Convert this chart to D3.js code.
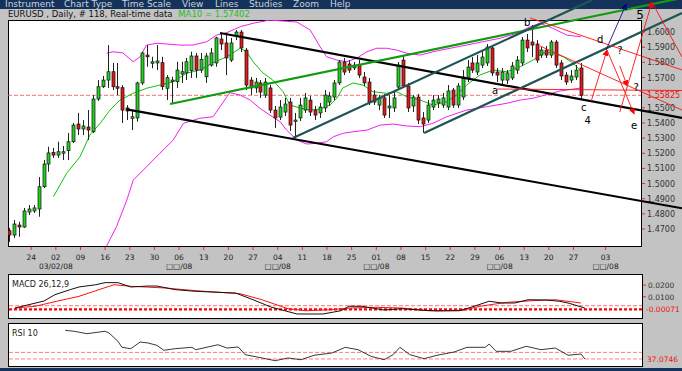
<!DOCTYPE html>
<html><head><meta charset="utf-8">
<script src="https://cdn.jsdelivr.net/npm/d3@7"></script>
<style>
body{margin:0;background:#c3c3c3;}
svg{display:block;font-family:"DejaVu Sans",Verdana,sans-serif;}
</style>
</head><body>
<svg id="chart" width="682" height="371"></svg>
<script>
// ---------------- DATA ----------------
const menuItems = ["Instrument","Chart Type","Time Scale","View","Lines","Studies","Zoom","Help"];
const titleText = "EURUSD , Daily, # 118, Real-time data";
const maText = "MA10 = 1.57402";

// daily candles [open, high, low, close]
const candles = [
[1.4689,1.4707,1.4616,1.4660],[1.4660,1.4759,1.4641,1.4733],[1.4726,1.4748,1.4649,1.4713],[1.4713,1.4839,1.4707,1.4819],
[1.4812,1.4858,1.4792,1.4832],[1.4819,1.4858,1.4806,1.4839],[1.4832,1.5043,1.4781,1.4979],[1.4979,1.5155,1.4971,1.5129],
[1.5129,1.5243,1.5078,1.5202],[1.5204,1.5235,1.5169,1.5188],[1.5188,1.5276,1.5169,1.5210],[1.5202,1.5248,1.5155,1.5210],
[1.5217,1.5334,1.5155,1.5276],[1.5276,1.5400,1.5268,1.5386],[1.5393,1.5466,1.5320,1.5360],[1.5360,1.5419,1.5320,1.5380],
[1.5373,1.5485,1.5287,1.5353],[1.5342,1.5584,1.5334,1.5558],[1.5558,1.5683,1.5545,1.5639],[1.5639,1.5710,1.5631,1.5683],
[1.5683,1.5914,1.5631,1.5738],[1.5738,1.5796,1.5617,1.5639],[1.5639,1.5796,1.5584,1.5631],[1.5633,1.5650,1.5400,1.5485],
[1.5499,1.5518,1.5419,1.5479],[1.5431,1.5485,1.5353,1.5441],[1.5433,1.5672,1.5408,1.5664],[1.5664,1.5870,1.5650,1.5862],
[1.5848,1.5914,1.5771,1.5837],[1.5794,1.5837,1.5761,1.5804],[1.5796,1.5914,1.5749,1.5809],[1.5798,1.5837,1.5617,1.5639],
[1.5629,1.5716,1.5551,1.5699],[1.5672,1.5705,1.5532,1.5683],[1.5672,1.5804,1.5631,1.5749],[1.5723,1.5804,1.5664,1.5738],
[1.5730,1.5829,1.5683,1.5804],[1.5745,1.5870,1.5697,1.5842],[1.5842,1.5862,1.5697,1.5749],[1.5749,1.5862,1.5730,1.5820],
[1.5705,1.5862,1.5664,1.5842],[1.5782,1.5895,1.5771,1.5862],[1.5796,1.5969,1.5771,1.5961],[1.5954,1.5994,1.5881,1.5921],
[1.5928,1.5994,1.5716,1.5829],[1.5815,1.5961,1.5802,1.5928],[1.5974,1.6013,1.5947,1.6000],[1.6000,1.6013,1.5868,1.5895],
[1.5881,1.5895,1.5617,1.5650],[1.5683,1.5703,1.5584,1.5631],[1.5631,1.5697,1.5598,1.5670],[1.5664,1.5683,1.5565,1.5604],
[1.5584,1.5697,1.5565,1.5670],[1.5631,1.5650,1.5466,1.5485],[1.5485,1.5512,1.5367,1.5433],[1.5439,1.5551,1.5419,1.5505],
[1.5472,1.5565,1.5446,1.5525],[1.5538,1.5565,1.5347,1.5386],[1.5413,1.5466,1.5301,1.5419],[1.5433,1.5565,1.5413,1.5518],
[1.5485,1.5598,1.5466,1.5565],[1.5551,1.5578,1.5446,1.5472],[1.5485,1.5512,1.5419,1.5452],[1.5466,1.5532,1.5433,1.5505],
[1.5499,1.5617,1.5472,1.5584],[1.5538,1.5604,1.5512,1.5578],[1.5571,1.5683,1.5551,1.5664],[1.5664,1.5815,1.5650,1.5802],
[1.5802,1.5829,1.5716,1.5736],[1.5789,1.5815,1.5730,1.5749],[1.5763,1.5802,1.5749,1.5782],[1.5782,1.5815,1.5697,1.5716],
[1.5703,1.5736,1.5644,1.5664],[1.5670,1.5697,1.5518,1.5538],[1.5584,1.5617,1.5518,1.5538],[1.5518,1.5584,1.5485,1.5565],
[1.5565,1.5591,1.5433,1.5452],[1.5499,1.5584,1.5433,1.5512],[1.5499,1.5604,1.5472,1.5565],[1.5637,1.5802,1.5617,1.5782],
[1.5815,1.5848,1.5631,1.5644],[1.5644,1.5664,1.5472,1.5499],[1.5512,1.5584,1.5472,1.5571],[1.5571,1.5591,1.5393,1.5419],
[1.5433,1.5472,1.5334,1.5393],[1.5419,1.5551,1.5400,1.5518],[1.5505,1.5584,1.5485,1.5551],[1.5532,1.5584,1.5499,1.5558],
[1.5518,1.5598,1.5499,1.5565],[1.5505,1.5650,1.5485,1.5611],[1.5617,1.5631,1.5499,1.5518],[1.5518,1.5664,1.5499,1.5644],
[1.5571,1.5749,1.5551,1.5703],[1.5697,1.5815,1.5670,1.5769],[1.5796,1.5835,1.5730,1.5749],[1.5736,1.5848,1.5716,1.5796],
[1.5782,1.5881,1.5763,1.5835],[1.5796,1.5921,1.5776,1.5901],[1.5895,1.5914,1.5710,1.5730],[1.5736,1.5763,1.5670,1.5716],
[1.5683,1.5763,1.5644,1.5736],[1.5683,1.5749,1.5657,1.5730],[1.5697,1.5802,1.5683,1.5776],[1.5749,1.5842,1.5723,1.5815],
[1.5796,1.5967,1.5776,1.5947],[1.5947,1.5987,1.5868,1.5895],[1.5934,1.6046,1.5835,1.5914],[1.5921,1.5947,1.5796,1.5815],
[1.5848,1.5901,1.5829,1.5881],[1.5881,1.5908,1.5829,1.5848],[1.5848,1.5947,1.5829,1.5934],[1.5934,1.5947,1.5763,1.5782],
[1.5796,1.5815,1.5683,1.5710],[1.5716,1.5736,1.5650,1.5670],[1.5683,1.5749,1.5664,1.5710],[1.5703,1.5782,1.5683,1.5749],
[1.5763,1.5796,1.5551,1.55825]
];

// MA10 [bar, price]
const ma10 = [[9.0,1.4913],[11.7,1.5068],[14.4,1.5177],[16.4,1.5320],[18.5,1.5398],[20.5,1.5485],[22.5,1.5551],[25.2,1.5596],
[27.9,1.5629],[30.6,1.5650],[33.3,1.5672],[36.0,1.5728],[38.7,1.5749],[41.4,1.5798],[44.2,1.5837],[46.9,1.5893],[48.2,1.5870],
[49.5,1.5804],[51.5,1.5730],[53.5,1.5683],[55.6,1.5606],[57.0,1.5518],[59.0,1.5499],[61.1,1.5485],[63.1,1.5492],[65.1,1.5518],
[66.5,1.5563],[67.7,1.5631],[69.8,1.5664],[71.8,1.5650],[73.8,1.5606],[76.6,1.5596],[78.6,1.5606],[80.7,1.5573],[83.4,1.5551],
[86.0,1.5518],[88.8,1.5540],[90.8,1.5584],[92.8,1.5650],[95.5,1.5716],[98.2,1.5749],[101.0,1.5738],[103.7,1.5771],[106.3,1.5815],
[108.3,1.5862],[110.3,1.5864],[112.4,1.5837],[114.4,1.5796],[116.0,1.5741]];

// Bollinger bands [bar, price]
const bbUpper = [[19.8,1.5860],[21.1,1.5870],[23.1,1.5862],[25.2,1.5804],[26.6,1.5837],[27.9,1.5914],[30.0,1.5926],[32.0,1.5921],
[34.7,1.5914],[37.3,1.5914],[40.1,1.5936],[42.1,1.5980],[44.2,1.5996],[46.9,1.6035],[49.5,1.6058],[52.9,1.6079],[58.4,1.6066],
[61.1,1.6013],[63.1,1.5903],[64.4,1.5837],[66.5,1.5815],[68.5,1.5804],[70.5,1.5827],[72.6,1.5870],[74.6,1.5893],[76.6,1.5893],
[78.6,1.5881],[80.7,1.5860],[83.4,1.5848],[86.0,1.5870],[89.5,1.5893],[92.8,1.5914],[96.1,1.5936],[99.6,1.5959],[103.0,1.5992],
[105.7,1.6035],[107.7,1.6058],[110.3,1.6025],[113.1,1.5980],[116.0,1.5969]];
const bbLower = [[19.8,1.4588],[21.8,1.4715],[23.9,1.4891],[25.2,1.5023],[27.9,1.5111],[30.6,1.5200],[33.3,1.5287],[35.4,1.5398],
[38.7,1.5431],[41.4,1.5441],[42.8,1.5507],[44.2,1.5573],[44.8,1.5600],[46.9,1.5584],[48.9,1.5551],[50.9,1.5497],[52.9,1.5452],
[55.0,1.5408],[56.3,1.5353],[58.4,1.5287],[60.4,1.5261],[62.4,1.5266],[64.4,1.5276],[65.8,1.5309],[67.8,1.5332],[69.8,1.5342],
[72.6,1.5353],[75.3,1.5386],[77.9,1.5393],[80.7,1.5380],[83.4,1.5375],[86.0,1.5398],[88.8,1.5441],[92.8,1.5485],[96.9,1.5507],
[101.0,1.5530],[103.7,1.5551],[106.3,1.5563],[108.7,1.5584],[111.8,1.5611],[116.0,1.5631]];

// MACD (26,12,9) [bar, value]
const macdLine = [[1.2,0.0004],[7.1,0.0064],[9.3,0.0118],[12.4,0.0161],[14.2,0.0184],[17.6,0.0203],[19.5,0.0221],[22.1,0.0221],
[24.7,0.0184],[28.2,0.0192],[30.0,0.0192],[33.7,0.0161],[37.9,0.0147],[46.0,0.0132],[49.5,0.0075],[53.1,0.0013],[58.4,-0.0047],
[63.7,-0.0047],[67.3,-0.0019],[69.0,0.0019],[71.6,0.0019],[76.1,-0.0013],[79.7,-0.0002],[83.2,-0.0013],[86.8,-0.0021],[91.3,-0.0019],
[93.9,0.0013],[97.4,0.0062],[100.0,0.0047],[102.6,0.0047],[105.3,0.0075],[108.9,0.0073],[111.6,0.0062],[113.4,0.0047],[116.8,0.0004]];
const signalLine = [[1.2,0.0004],[5.3,0.0019],[9.7,0.0062],[14.2,0.0104],[17.6,0.0152],[21.3,0.0203],[24.7,0.0190],[31.8,0.0175],
[37.9,0.0152],[46.9,0.0126],[51.3,0.0075],[56.6,-0.0002],[60.2,-0.0019],[65.5,-0.0010],[69.0,0.0004],[74.4,0.0010],[79.7,0.0004],
[85.0,-0.0019],[92.1,-0.0015],[95.5,0.0019],[101.0,0.0053],[106.3,0.0067],[110.8,0.0075],[116.0,0.0047]];
const macdTicks = [0.02, 0.01];
const macdLevels = {last: -0.00071, dash: 0.0024};

// RSI 10 [bar, value]
const rsiLine = [[11.4,84.8],[13.2,83.2],[15.8,79.2],[19.5,83.2],[20.3,80.3],[22.1,66.5],[22.9,56.5],[24.7,54.2],[26.6,65.3],
[28.2,63.7],[30.0,59.8],[31.4,51.5],[33.7,54.2],[37.1,56.5],[37.9,52.5],[42.4,60.8],[44.2,55.3],[46.5,57.0],[47.9,44.2],
[51.3,38.7],[54.0,34.2],[56.6,38.7],[59.2,35.8],[61.9,43.2],[65.5,47.0],[68.2,56.5],[70.8,52.5],[73.4,41.5],[76.1,35.8],
[77.9,44.2],[79.3,56.5],[81.3,44.2],[84.2,37.5],[86.8,43.2],[90.3,48.7],[92.9,56.5],[96.6,56.5],[97.4,62.0],[98.8,49.8],
[101.8,49.8],[104.9,58.2],[107.9,52.5],[110.8,55.3],[113.4,43.2],[116.0,45.3],[116.8,37.07]];
const rsiLevels = {last: 37.0746, upper: 48};

const priceTicks = [1.60,1.59,1.58,1.57,1.55,1.54,1.53,1.52,1.51,1.50,1.49,1.48,1.47];
const lastPrice = 1.55825;
const xTickLabels = ["24","02","09","16","23","30","06","13","20","27","04","11","18","25","01","08","15","22","29","06","13","20","27","03"];
const xTickBars = [4.5,9.5,14.5,19.5,24.5,29.5,34.5,39.5,44.5,49.5,54.5,59.5,64.5,69.5,74.5,79.5,84.5,89.5,94.5,99.5,104.5,109.5,114.5,121];
const monthLabels = [["03/02/08",1],["\u25A1\u25A1/08",6],["\u25A1\u25A1/08",10],["\u25A1\u25A1/08",14],["\u25A1\u25A1/08",19],["\u25A1\u25A1/08",23]];

// hand-drawn analysis lines [[bar, price],[bar, price]]
const blackLines = [[[42.8,1.5994],[136.5,1.5433]],[[23.87,1.5490],[136.5,1.4837]]];
const greenLines = [[[32.66,1.5525],[136.5,1.6225]]];
const tealLines  = [[[57.6,1.5301],[118.3,1.6212]],[[84.2,1.5334],[136.5,1.6126]]];
const redLines   = [[[99.0,1.5624],[136.5,1.5614]],[[105.7,1.6093],[136.5,1.5750]],[[107.7,1.5908],[136.5,1.5485]],
                    [[130.4,1.6198],[136.5,1.5836]]];
const redArrows  = [[[118.1,1.5545],[121.3,1.5881]],[[121.3,1.5881],[126.8,1.5459]],[[123.9,1.5776],[125.4,1.5644]],[[123.9,1.5472],[130.4,1.6198]]];
const blueArrows = [[[121.1,1.5881],[125.2,1.6185]]];
const waveLabels = [["a",98.6,1.5617],["b",105.1,1.6066],["c",116.6,1.5499],["4",117.4,1.5419],["d",119.9,1.5954],
["?",123.9,1.5875],["?",127.2,1.5637],["e",126.8,1.5380],["5",128.0,1.6113]];

// ---------------- DRAW ----------------
const svg = d3.select("#chart");
const P = {x0:8, x1:641, y0:20, y1:246};
const x = d3.scaleLinear().domain([0,116]).range([9,580.9]);
const y = d3.scaleLinear().domain([1.47,1.60]).range([229,32.05]);
const ym = d3.scaleLinear().domain([-0.00071,0.02]).range([309.33,285.1]);
const yr = d3.scaleLinear().domain([30,100]).range([363.2,321.2]);

// menu bar
svg.append("rect").attr("x",0).attr("y",0).attr("width",682).attr("height",9).attr("fill","#15335a");
svg.selectAll("text.menu").data(menuItems).join("text").attr("class","menu")
  .attr("x",(d,i)=>[5,64,122,182,215,249,293,330][i]).attr("y",7)
  .attr("font-size",9).attr("fill","#c9d2de").text(d=>d);

// title
const tt = svg.append("text").attr("x",8).attr("y",17).attr("font-size",8.5);
tt.append("tspan").attr("fill","#111").text(titleText+" ");
tt.append("tspan").attr("fill","#22c022").attr("dx",3).text(maText);

// main plot
const defs = svg.append("defs");
defs.append("clipPath").attr("id","pc").append("rect")
  .attr("x",P.x0).attr("y",P.y0).attr("width",P.x1-P.x0).attr("height",P.y1-P.y0);
svg.append("rect").attr("x",P.x0+0.5).attr("y",P.y0+0.5).attr("width",P.x1-P.x0).attr("height",P.y1-P.y0)
  .attr("fill","#fff").attr("stroke","#000");

const g = svg.append("g").attr("clip-path","url(#pc)");
const lineGen = (sy)=>d3.line().x(d=>x(d[0])).y(d=>sy(d[1]));

g.append("line").attr("x1",P.x0).attr("x2",P.x1).attr("y1",y(lastPrice)).attr("y2",y(lastPrice))
  .attr("stroke","#f05050").attr("stroke-dasharray","4,2").attr("stroke-width",0.8);

g.append("path").attr("d",lineGen(y)(bbUpper)).attr("fill","none").attr("stroke","#f020f0").attr("stroke-width",1);
g.append("path").attr("d",lineGen(y)(bbLower)).attr("fill","none").attr("stroke","#f020f0").attr("stroke-width",1);
g.append("path").attr("d",lineGen(y)(ma10)).attr("fill","none").attr("stroke","#10c010").attr("stroke-width",1);

// candles
const cg = g.append("g");
candles.forEach((c,i)=>{
  const cx = Math.round(x(i))+0.5;
  cg.append("line").attr("x1",cx).attr("x2",cx).attr("y1",y(c[1])).attr("y2",y(c[2])).attr("stroke","#222").attr("stroke-width",1);
  const top = Math.min(y(c[0]),y(c[3])), h = Math.max(1.5,Math.abs(y(c[0])-y(c[3])));
  cg.append("rect").attr("x",cx-1.5).attr("y",top).attr("width",3).attr("height",h)
    .attr("fill",c[3]>=c[0]?"#20d020":"#e01818").attr("stroke","#111").attr("stroke-width",0.7);
});

// x axis ticks & labels
xTickBars.forEach((b,i)=>{
  const tx = x(b);
  svg.append("line").attr("x1",tx).attr("x2",tx).attr("y1",P.y1+1).attr("y2",P.y1+4).attr("stroke","#e03030");
  svg.append("text").attr("x",tx).attr("y",260).attr("text-anchor","middle").attr("font-size",7.5).attr("fill","#222").text(xTickLabels[i]);
});
monthLabels.forEach(([t,k])=>{
  svg.append("text").attr("x",x(xTickBars[k])).attr("y",269).attr("text-anchor","middle").attr("font-size",7.5).attr("fill","#222").text(t);
});

// price axis
priceTicks.forEach(p=>{
  svg.append("line").attr("x1",P.x1+1).attr("x2",P.x1+4).attr("y1",y(p)).attr("y2",y(p)).attr("stroke","#e03030");
  svg.append("text").attr("x",P.x1+6).attr("y",y(p)+3).attr("font-size",8).attr("fill","#333").text(p.toFixed(4));
});
svg.append("text").attr("x",P.x1+6).attr("y",y(lastPrice)+3).attr("font-size",8).attr("fill","#f01010").text(lastPrice.toFixed(5));

// analysis lines (not clipped)
const ag = svg.append("g");
[["ar","#ff0000"],["ab","#00008b"]].forEach(([id,col])=>{
  defs.append("marker").attr("id",id).attr("viewBox","0 0 10 10").attr("refX",9).attr("refY",5)
   .attr("markerWidth",7).attr("markerHeight",7).attr("orient","auto-start-reverse")
   .append("path").attr("d","M0,0 L10,5 L0,10 z").attr("fill",col);
});
const seg = (arr,col,w,marker)=>arr.forEach(s=>{
  const l = ag.append("line").attr("x1",x(s[0][0])).attr("y1",y(s[0][1])).attr("x2",x(s[1][0])).attr("y2",y(s[1][1]))
    .attr("stroke",col).attr("stroke-width",w);
  if(marker) l.attr("marker-end",`url(#${marker})`);
});
seg(blackLines,"#000",2.2);
seg(greenLines,"#129a12",2.2);
seg(tealLines,"#1f5454",2.2);
seg(redLines,"#ff1010",0.9);
seg(redArrows,"#ff1010",0.9,"ar");
seg(blueArrows,"#10108a",0.9,"ab");
waveLabels.forEach(([t,b,p])=>{
  ag.append("text").attr("x",x(b)).attr("y",y(p)).attr("text-anchor","middle").attr("dominant-baseline","central")
    .attr("font-size",t==="5"?12:10).attr("fill","#000").text(t);
});

// MACD panel
svg.append("rect").attr("x",8.5).attr("y",274.5).attr("width",634).attr("height",44).attr("fill","#fff").attr("stroke","#000");
svg.append("text").attr("x",12).attr("y",287).attr("font-size",8).attr("fill","#222").text("MACD 26,12,9");
svg.append("line").attr("x1",9).attr("x2",642).attr("y1",ym(macdLevels.dash)).attr("y2",ym(macdLevels.dash))
  .attr("stroke","#ff5050").attr("stroke-dasharray","4,2").attr("stroke-width",0.8);
svg.append("line").attr("x1",9).attr("x2",642).attr("y1",ym(macdLevels.last)).attr("y2",ym(macdLevels.last))
  .attr("stroke","#ff0000").attr("stroke-dasharray","3,2").attr("stroke-width",2.2);
svg.append("path").attr("d",lineGen(ym)(signalLine)).attr("fill","none").attr("stroke","#ff1010").attr("stroke-width",1);
svg.append("path").attr("d",lineGen(ym)(macdLine)).attr("fill","none").attr("stroke","#111").attr("stroke-width",1);
macdTicks.forEach(v=>{
  svg.append("line").attr("x1",643).attr("x2",646).attr("y1",ym(v)).attr("y2",ym(v)).attr("stroke","#e03030");
  svg.append("text").attr("x",648).attr("y",ym(v)+3).attr("font-size",7.5).attr("fill","#333").text(v.toFixed(4));
});
svg.append("text").attr("x",646).attr("y",ym(macdLevels.last)+3).attr("font-size",7.5).attr("fill","#f01010").text(macdLevels.last.toFixed(5));

// RSI panel
svg.append("rect").attr("x",8.5).attr("y",323.5).attr("width",634).attr("height",43).attr("fill","#fff").attr("stroke","#000");
svg.append("text").attr("x",12).attr("y",336).attr("font-size",8).attr("fill","#222").text("RSI 10");
[rsiLevels.upper,rsiLevels.last].forEach(v=>{
  svg.append("line").attr("x1",9).attr("x2",642).attr("y1",yr(v)).attr("y2",yr(v))
   .attr("stroke","#ff6060").attr("stroke-dasharray","4,2").attr("stroke-width",0.8);
});
svg.append("path").attr("d",lineGen(yr)(rsiLine)).attr("fill","none").attr("stroke","#222").attr("stroke-width",0.9);
svg.append("text").attr("x",647).attr("y",yr(rsiLevels.last)+3).attr("font-size",7.5).attr("fill","#f01010").text(rsiLevels.last.toFixed(4));

// bottom bar
svg.append("rect").attr("x",0).attr("y",368).attr("width",682).attr("height",3).attr("fill","#15335a");
</script>
</body></html>
